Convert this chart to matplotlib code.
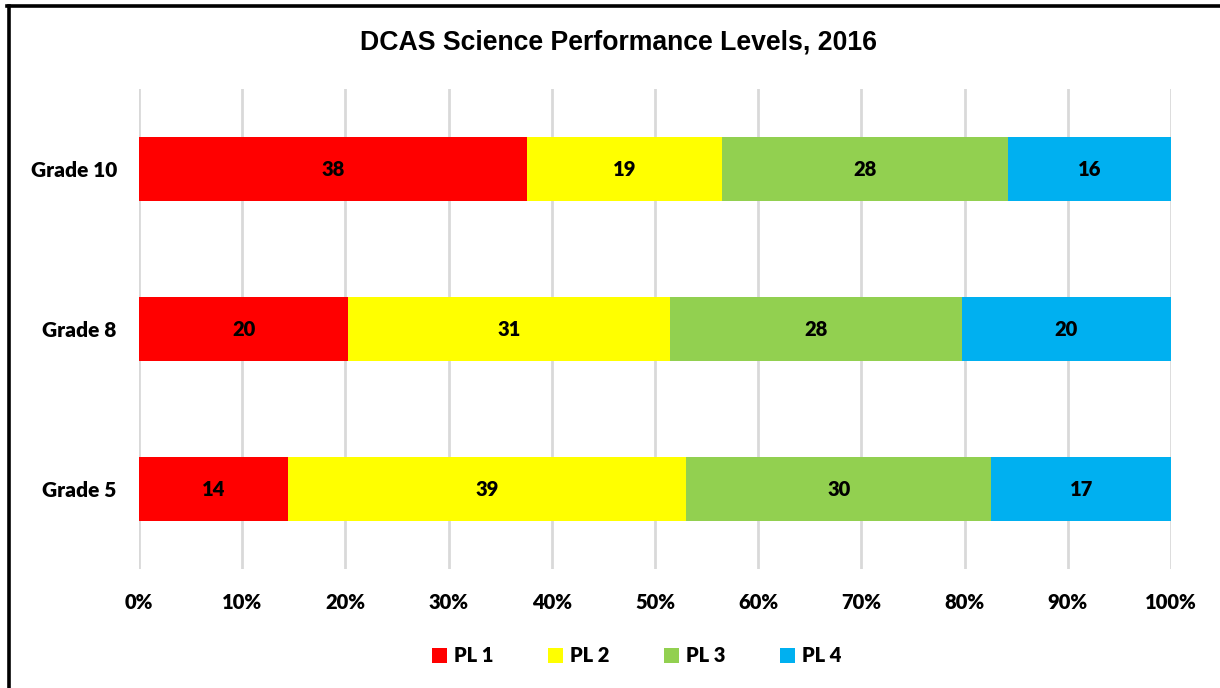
import matplotlib
matplotlib.use("Agg")
import matplotlib.pyplot as plt
import numpy as np
from matplotlib.lines import Line2D
from matplotlib.patches import Patch

grades = ["Grade 5", "Grade 8", "Grade 10"]
series = ["PL 1", "PL 2", "PL 3", "PL 4"]
pl1 = [14.4, 20.3, 37.6]
pl2 = [38.6, 31.2, 18.9]
pl3 = [29.6, 28.2, 27.7]
pl4 = [17.4, 20.3, 15.8]
colors = ["#ff0000", "#ffff00", "#92d050", "#00b0f0"]
xticks = np.arange(0, 101, 10)
title = "DCAS Science Performance Levels, 2016"

W, H = 1220, 688
fig = plt.figure(figsize=(W / 100, H / 100), dpi=100)
ax = fig.add_axes([139 / W, 1 - 569 / H, (1171 - 139) / W, (569 - 89) / H])

data = np.array([pl1, pl2, pl3, pl4], dtype=float)
totals = data.sum(axis=0)
pct = data / totals * 100
y = np.arange(len(grades))
left = np.zeros(len(grades))
FS = 14.5
lab_font = dict(family=["Lato", "DejaVu Sans"], weight=800)
for i, name in enumerate(series):
    ax.barh(y, pct[i], left=left, height=0.4, color=colors[i], label=name, zorder=3)
    for j in range(len(grades)):
        ax.text(left[j] + pct[i][j] / 2, y[j], f"{data[i][j]:.0f}", ha="center", va="center",
                fontsize=FS, color="black", zorder=4, **lab_font)
    left += pct[i]

ax.set_xlim(0, 100)
ax.set_ylim(-0.5, 2.5)
ax.set_xticks(xticks)
ax.set_xticklabels([f"{v}%" for v in xticks], fontsize=FS, **lab_font)
ax.set_yticks(y)
ax.set_yticklabels(grades, fontsize=15, **lab_font)
ax.tick_params(axis="both", length=0)
ax.tick_params(axis="x", pad=17)
ax.tick_params(axis="y", pad=16)
ax.grid(axis="x", color="#d9d9d9", linewidth=2, zorder=0)
for s in ax.spines.values():
    s.set_visible(False)

fig.text(618 / W, 1 - 49 / H, title, ha="center", va="baseline", fontsize=19.2,
         family=["Liberation Sans", "DejaVu Sans"], weight="bold")

handles = [Patch(facecolor=c, edgecolor="none") for c in colors]
leg = fig.legend(handles, series, loc="center", bbox_to_anchor=(637 / W, 1 - 656 / H), ncol=4,
                 frameon=False, handlelength=0.75, handleheight=0.75, handletextpad=0.35,
                 columnspacing=2.7, prop=dict(family=["Lato", "DejaVu Sans"], weight=800, size=FS))

# frame border
fig.add_artist(Line2D([8.5 / W, 8.5 / W], [0, 1 - 5.5 / H], transform=fig.transFigure, color="black", linewidth=2.6))
fig.add_artist(Line2D([7.2 / W, 1], [1 - 6 / H, 1 - 6 / H], transform=fig.transFigure, color="black", linewidth=2.6))

fig.savefig("out.png", dpi=100, facecolor="white")
